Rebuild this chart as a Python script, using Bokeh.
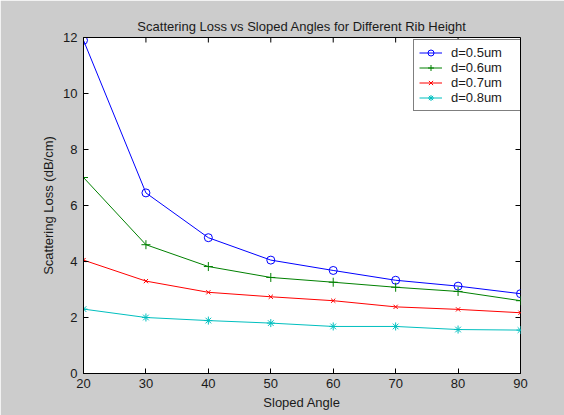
import math
from bokeh.plotting import figure
from bokeh.models import FixedTicker, Range1d, Legend
from bokeh.embed import file_html
from bokeh.resources import INLINE

angles = [20, 30, 40, 50, 60, 70, 80, 90]
loss_05 = [11.9, 6.45, 4.85, 4.05, 3.68, 3.33, 3.12, 2.85]
loss_06 = [7.0, 4.6, 3.82, 3.43, 3.26, 3.08, 2.93, 2.6]
loss_07 = [4.05, 3.3, 2.9, 2.74, 2.6, 2.38, 2.29, 2.17]
loss_08 = [2.3, 2.0, 1.89, 1.8, 1.68, 1.68, 1.57, 1.55]
labels = ["d=0.5um", "d=0.6um", "d=0.7um", "d=0.8um"]
x_ticks = [20, 30, 40, 50, 60, 70, 80, 90]
y_ticks = [0, 2, 4, 6, 8, 10, 12]
x_min, x_max = 20, 90
y_min, y_max = 0, 12

FONT = "Liberation Sans"
TXT = "#1a1a1a"
BG = "#cccccc"

p = figure(width=564, height=415, output_backend="svg", toolbar_location=None,
           x_range=Range1d(x_min, x_max), y_range=Range1d(y_min, y_max),
           min_border_left=83, min_border_right=44, min_border_top=37, min_border_bottom=42,
           background_fill_color="white", border_fill_color=BG,
           outline_line_color="black", outline_line_width=1)
p.grid.visible = False

p.title.text = "Scattering Loss vs Sloped Angles for Different Rib Height"
p.title.align = "center"
p.title.text_font = FONT
p.title.text_font_size = "13px"
p.title.text_font_style = "normal"
p.title.text_color = TXT
p.title.standoff = 7

for ax in (p.xaxis[0], p.yaxis[0]):
    ax.major_tick_in = 5
    ax.major_tick_out = 0
    ax.minor_tick_line_color = None
    ax.major_label_text_font = FONT
    ax.major_label_text_font_size = "13px"
    ax.major_label_text_color = TXT
    ax.axis_label_text_font = FONT
    ax.axis_label_text_font_size = "13px"
    ax.axis_label_text_font_style = "normal"
    ax.axis_label_text_color = TXT
    ax.axis_line_color = "black"
    ax.major_tick_line_color = "black"

p.xaxis[0].ticker = FixedTicker(ticks=x_ticks)
p.yaxis[0].ticker = FixedTicker(ticks=y_ticks)
p.xaxis[0].axis_label = "Sloped Angle"
p.yaxis[0].axis_label = "Scattering Loss (dB/cm)"
p.xaxis[0].major_label_standoff = 5
p.yaxis[0].major_label_standoff = 6
p.xaxis[0].axis_label_standoff = 4
p.yaxis[0].axis_label_standoff = 4

# inward ticks on the top and right edges of the box
p.ray(x=x_ticks, y=[y_max] * len(x_ticks), length=5, length_units="screen",
      angle=-math.pi / 2, line_color="black", line_width=1)
p.ray(x=[x_max] * len(y_ticks), y=y_ticks, length=5, length_units="screen",
      angle=math.pi, line_color="black", line_width=1)

series = [
    (loss_05, "#0000ff", "circle", 8),
    (loss_06, "#008000", "cross", 9),
    (loss_07, "#ff0000", "x", 6),
    (loss_08, "#00bfbf", "asterisk", 8),
]
items = []
for (vals, color, marker, size), lab in zip(series, labels):
    ln = p.line(angles, vals, line_color=color, line_width=1)
    sc = p.scatter(angles, vals, marker=marker, size=size, line_color=color,
                   fill_color=None, line_width=1)
    items.append((lab, [ln, sc]))

legend = Legend(items=items, location=(330, 262))
legend.label_text_font = FONT
legend.label_text_font_size = "13px"
legend.label_text_color = TXT
legend.border_line_color = "black"
legend.border_line_width = 1
legend.background_fill_color = "white"
legend.background_fill_alpha = 1
legend.glyph_width = 23
legend.glyph_height = 15
legend.label_height = 15
legend.label_width = 65
legend.spacing = 0
legend.padding = 5
legend.label_standoff = 9
legend.margin = 0
p.add_layout(legend, "center")

open("out.html", "w").write(file_html(p, INLINE))
